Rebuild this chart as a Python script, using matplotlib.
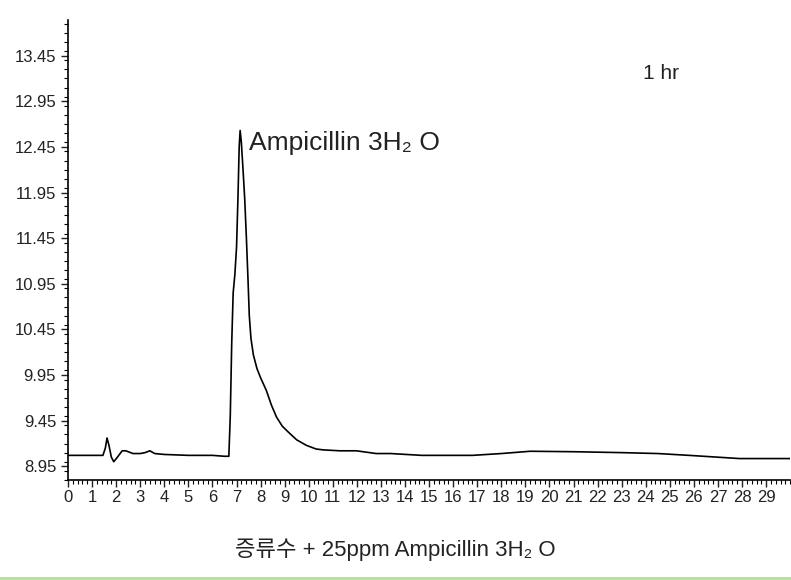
import matplotlib.pyplot as plt
from matplotlib.ticker import MultipleLocator, FixedLocator
from matplotlib.lines import Line2D

# retention time (min) and detector signal
time = [0.0, 1.0, 1.45, 1.55, 1.62, 1.7, 1.8, 1.9, 2.05, 2.25, 2.4, 2.7, 3.0, 3.2,
        3.4, 3.6, 4.0, 5.0, 6.0, 6.5, 6.68, 6.74, 6.8, 6.86, 6.93, 7.0, 7.06,
        7.11, 7.15, 7.2, 7.27, 7.34, 7.41, 7.48, 7.53, 7.6, 7.7, 7.85, 8.0,
        8.24, 8.45, 8.66, 8.9, 9.21, 9.5, 9.9, 10.3, 10.6, 11.3, 11.98, 12.8,
        13.4, 14.7, 15.4, 16.8, 18.0, 19.2, 21.0, 23.0, 24.5, 25.8, 27.0,
        27.9, 29.96]
signal = [9.07, 9.07, 9.07, 9.15, 9.26, 9.18, 9.05, 9.00, 9.05, 9.12, 9.12, 9.09,
          9.09, 9.10, 9.12, 9.09, 9.08, 9.07, 9.07, 9.06, 9.06, 9.5, 10.3, 10.85,
          11.05, 11.35, 11.9, 12.45, 12.63, 12.5, 12.2, 11.88, 11.45, 10.97, 10.6,
          10.35, 10.17, 10.02, 9.92, 9.78, 9.62, 9.49, 9.39, 9.31, 9.24, 9.18,
          9.14, 9.13, 9.12, 9.12, 9.09, 9.09, 9.07, 9.07, 9.07, 9.09, 9.115,
          9.11, 9.10, 9.09, 9.07, 9.05, 9.035, 9.035]

y_ticks = [8.95, 9.45, 9.95, 10.45, 10.95, 11.45, 11.95, 12.45, 12.95, 13.45]
x_ticks = list(range(0, 30))

fonts = ['Liberation Sans', 'Noto Sans CJK KR', 'DejaVu Sans']
plt.rcParams['font.family'] = fonts

fig = plt.figure(figsize=(7.91, 5.8), dpi=100)
ax = fig.add_axes([0.086, 0.1724, 0.913, 0.7931])
ax.plot(time, signal, color='black', lw=1.2)

ax.set_xlim(0, 30)
ax.set_ylim(8.80, 13.84)
ax.yaxis.set_major_locator(FixedLocator(y_ticks))
ax.yaxis.set_minor_locator(MultipleLocator(0.1))
ax.xaxis.set_major_locator(FixedLocator(x_ticks))
ax.xaxis.set_minor_locator(MultipleLocator(0.2))
ax.set_yticklabels([f"{v:.2f}" for v in y_ticks])
ax.set_xticklabels([str(v) for v in x_ticks])
ax.tick_params(axis='both', which='major', length=5, width=1, labelsize=12, colors='#222222')
ax.tick_params(axis='both', which='minor', length=3, width=0.8)
ax.tick_params(axis='x', pad=2)
for side in ['top', 'right']:
    ax.spines[side].set_visible(False)
for side in ['left', 'bottom']:
    ax.spines[side].set_linewidth(1.2)

ax.text(7.5, 12.49, "Ampicillin 3H₂ O", fontsize=19, ha='left', va='center', color='#222222')
ax.text(23.9, 13.25, "1 hr", fontsize=15, ha='left', va='center', color='#222222')

fig.text(0.5, 0.052, "증류수 + 25ppm Ampicillin 3H₂ O", ha='center', va='center',
         fontsize=16, color='#222222')
fig.add_artist(Line2D([0.0, 1.0], [0.003, 0.003], transform=fig.transFigure,
                      color='#b8dca4', lw=2))

fig.savefig("out.png", dpi=100)
